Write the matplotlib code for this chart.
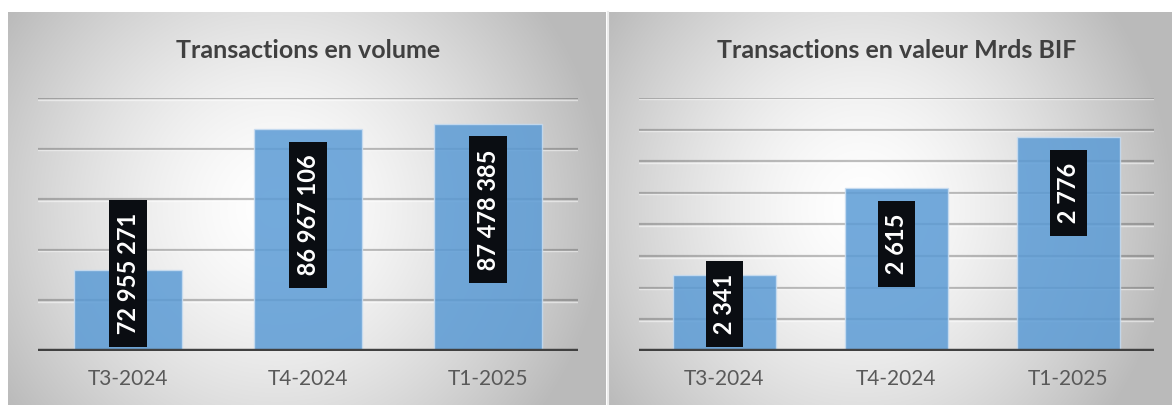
import numpy as np
import matplotlib
matplotlib.use("Agg")
import matplotlib.pyplot as plt
import matplotlib.transforms as mtransforms

plt.rcParams['font.family'] = ['Lato', 'DejaVu Sans']

# data
quarters = ['T3-2024', 'T4-2024', 'T1-2025']
volume = [72955271, 86967106, 87478385]
valeur = [2341, 2615, 2776]
volume_labels = ['72 955 271', '86 967 106', '87 478 385']
valeur_labels = ['2 341', '2 615', '2 776']
title_volume = 'Transactions en volume'
title_valeur = 'Transactions en valeur Mrds BIF'

W, H = 1172, 405
BAR_COLOR = '#5b9bd5'


def radial_bg(w, h):
    """soft radial gradient like the Excel chart area"""
    xs = np.linspace(0, 1, w)
    ys = np.linspace(0, 1, h)
    X, Y = np.meshgrid(xs, ys)
    d = np.sqrt(((X - 0.45) / 0.55) ** 2 + ((Y - 0.5) / 0.85) ** 2)
    v = 255 - 68 * np.clip(d, 0, 1) ** 1.5
    v = v / 255.0
    return np.dstack([v, v, v])


def px_rect(x0, y0, x1, y1):
    # pixel box (top-left origin) -> figure fraction rect
    return [x0 / W, 1 - y1 / H, (x1 - x0) / W, (y1 - y0) / H]


fig = plt.figure(figsize=(W / 100, H / 100), dpi=100)
fig.patch.set_facecolor('white')

# panel backgrounds
for (x0, x1) in [(8, 606), (609, 1172)]:
    bg = fig.add_axes(px_rect(x0, 12, x1, 405), zorder=0)
    bg.imshow(radial_bg(x1 - x0, 405 - 12), aspect='auto', interpolation='bilinear')
    bg.axis('off')
fig.add_artist(plt.Line2D([607.5 / W, 607.5 / W], [0, 1 - 12 / H], color='#ececec', lw=1.5))


def draw_panel(rect, values, labels, title, ylo, yhi, step):
    ax = fig.add_axes(rect, zorder=2)
    ax.patch.set_alpha(0)
    x = np.arange(len(values))
    ax.set_xlim(-0.5, len(values) - 0.5)
    ax.set_ylim(ylo, yhi)

    # gridlines with a light highlight under them
    shift = mtransforms.ScaledTranslation(0, -1.5 / 100, fig.dpi_scale_trans)
    for g in np.arange(ylo + step, yhi + step / 2, step):
        ax.axhline(g, color='#404040', alpha=0.33, lw=1.6, zorder=1)
        ax.plot([0, 1], [g, g], color='white', alpha=0.5, lw=1.0, zorder=1,
                transform=ax.get_yaxis_transform() + shift)
    bars = ax.bar(x, values, width=0.6, bottom=0, color=BAR_COLOR, alpha=0.85,
                  edgecolor='#c9ddf1', linewidth=1, zorder=2)
    ax.axhline(ylo, color='#404040', lw=3.2, zorder=3)

    fig.canvas.draw()
    rend = fig.canvas.get_renderer()
    for b, lab in zip(bars, labels):
        t = ax.annotate(' ' + lab + ' ', (b.get_x() + b.get_width() / 2, b.get_height()),
                        xytext=(0, -20), textcoords='offset pixels',
                        rotation=90, ha='center', va='top', color='white',
                        fontsize=17, fontweight='bold', zorder=4,
                        bbox=dict(boxstyle='square,pad=0.3', fc='#0a0d12', ec='none'))
        fig.canvas.draw()
        ext = t.get_bbox_patch().get_window_extent(rend)
        ax_bottom = ax.get_window_extent(rend).y0
        if ext.y0 < ax_bottom + 4:
            t.xyann = (0, -20 + (ax_bottom + 4 - ext.y0))

    ax.set_xticks(x)
    ax.set_xticklabels(quarters, fontsize=15, color='#595959')
    ax.set_yticks([])
    ax.tick_params(axis='x', length=0, pad=13)
    for s in ax.spines.values():
        s.set_visible(False)
    ax.text(0.5, 1 + 48 / 253, title, transform=ax.transAxes, ha='center', va='center',
            fontsize=18, fontweight='bold', color='#404040')
    return ax


draw_panel(px_rect(38, 98, 578, 351), volume, volume_labels, title_volume, 65e6, 90e6, 5e6)
draw_panel(px_rect(638.5, 98, 1154, 351), valeur, valeur_labels, title_valeur, 2100, 2900, 100)

fig.savefig('out.png', dpi=100)
